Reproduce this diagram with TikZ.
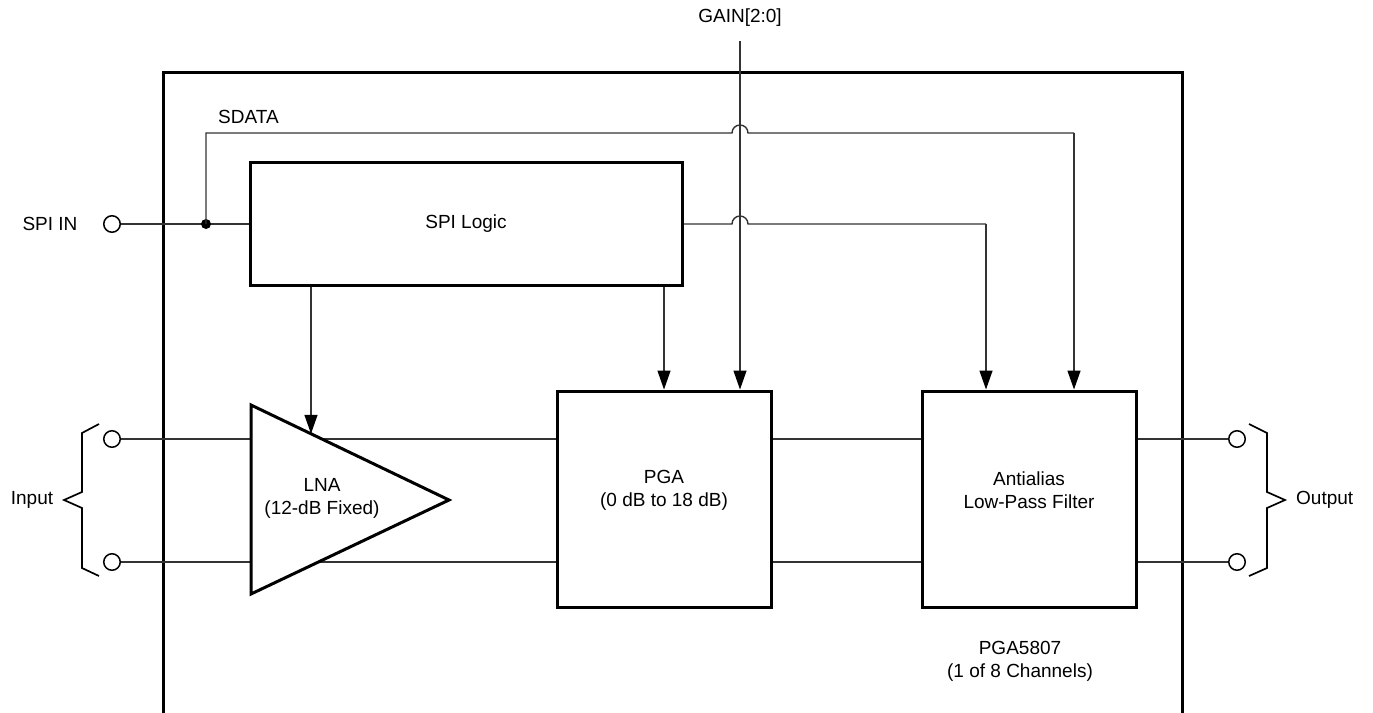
\documentclass[tikz,border=0pt]{standalone}
\usepackage{fontspec}
\setmainfont{Liberation Sans}
\usetikzlibrary{arrows.meta,calc}
\begin{document}
\begin{tikzpicture}[x=1pt,y=-1pt,
  thick box/.style={draw=black,line width=3pt},
  blockbox/.style={thick box,rectangle,inner sep=0pt},
  sig/.style={draw=black!80,line width=1.4pt},
  arr/.style={sig,-{Triangle[length=19pt,width=13pt,color=black]}},
  term/.style={circle,draw=black,line width=1.5pt,fill=white,minimum size=16.5pt,inner sep=0pt},
  lbl/.style={font=\fontsize{19}{23}\selectfont,align=center,inner sep=0pt},
  brace/.style={draw=black,line width=1.7pt,line join=miter}
]
\useasboundingbox (0,0) rectangle (1373,712);
\begin{scope}
\clip (0,0) rectangle (1373,712);

% outer device border
\coordinate (bl) at (163,730);
\coordinate (tl) at (163,72);
\coordinate (tr) at (1182,72);
\coordinate (br) at (1182,730);
\draw[thick box] (bl) -- (tl) -- (tr) -- (br);

% blocks
\node[blockbox,minimum width=432pt,minimum height=123pt] (spi) at (466,224) {};
\node[lbl] (spitxt) at (466,224) {SPI Logic};
\node[blockbox,minimum width=214pt,minimum height=216pt] (pga) at (664,499) {};
\node[lbl] (pgatxt) at (664,490) {PGA\\(0 dB to 18 dB)};
\node[blockbox,minimum width=214pt,minimum height=216pt] (filt) at (1029,499) {};
\node[lbl] (filttxt) at (1029,490) {Antialias\\Low-Pass Filter};

% terminals
\node[term] (spiin) at (112,224) {};
\node[term] (in1) at (112,439) {};
\node[term] (in2) at (112,562) {};
\node[term] (out1) at (1237,439) {};
\node[term] (out2) at (1237,562) {};

% signal lines
\draw[sig] (in1) -- (pga.west |- in1);
\draw[sig] (in2) -- (pga.west |- in2);
\draw[sig] (pga.east |- in1) -- (filt.west |- in1);
\draw[sig] (pga.east |- in2) -- (filt.west |- in2);
\draw[sig] (filt.east |- out1) -- (out1);
\draw[sig] (filt.east |- out2) -- (out2);

% LNA triangle
\coordinate (ta) at (251,405);
\coordinate (tb) at (251,594);
\coordinate (tc) at (449,500);
\draw[thick box,fill=white,line join=miter] (ta) -- (tc) -- (tb) -- cycle;
\node[lbl] (lnatxt) at (322,498) {LNA\\(12-dB Fixed)};
\coordinate (lnatop) at ($(ta)!0.303!(tc)$);

% SPI in
\draw[sig] (spiin) -- (spi.west);
\coordinate (dot) at (206,224);
\fill[black] (dot) circle (5pt);

% GAIN line
\coordinate (gain) at (740,41);
\draw[arr] (gain) -- (gain |- pga.north);

% SDATA
\coordinate (sdx) at (1074,133);
\draw[sig] (dot) |- (732,133) arc[start angle=180,end angle=360,radius=8] -- (sdx);
\draw[arr] (sdx) -- (sdx |- filt.north);

% SPI logic right to filter
\coordinate (srx) at (986,224);
\draw[sig] (spi.east) -- (732,224) arc[start angle=180,end angle=360,radius=8] -- (srx);
\draw[arr] (srx) -- (srx |- filt.north);

% SPI logic down
\draw[arr] (spi.south -| lnatop) -- (lnatop);
\draw[arr] (spi.south -| 664,0) -- (pga.north);

% braces
\draw[brace] (99,424) -- (82,433) -- (82,492) -- (64,500) -- (82,508) -- (82,568) -- (99,576);
\draw[brace] (1249,424) -- (1267,433) -- (1267,492) -- (1285,500) -- (1267,508) -- (1267,568) -- (1249,576);

% labels
\node[lbl] (gaintxt) at (740,18) {GAIN[2:0]};
\node[lbl,anchor=west] (sdtxt) at (218,117) {SDATA};
\node[lbl] (spiintxt) at (50,224) {SPI IN};
\node[lbl] (intxt) at (32,500) {Input};
\node[lbl,anchor=west] (outtxt) at (1296,500) {Output};
\node[lbl] (devtxt) at (1020,661) {PGA5807\\(1 of 8 Channels)};
\end{scope}
\end{tikzpicture}
\end{document}
